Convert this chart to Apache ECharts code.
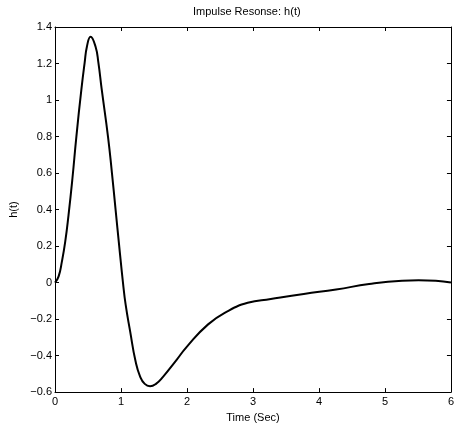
<!DOCTYPE html>
<html>
<head>
<meta charset="utf-8">
<title>Impulse Resonse</title>
<script src="https://cdn.jsdelivr.net/npm/echarts@6/dist/echarts.min.js"></script>
<style>
    html, body { margin: 0; padding: 0; background: #fff; }
    #main { width: 457px; height: 428px; }
</style>
</head>
<body>
<div id="main"></div>
<script>
// values
var timeSec = [0, 0.055, 0.105, 0.155, 0.205, 0.264, 0.324, 0.4, 0.449, 0.484, 0.539, 0.614, 0.658, 0.708, 0.803, 0.863, 0.918, 0.973,
    1.03, 1.07, 1.14, 1.22, 1.29, 1.36, 1.44, 1.53, 1.64, 1.84, 1.99, 2.32, 2.62, 2.92, 3.27, 3.77, 4.26, 4.76, 5.26, 5.51, 5.77, 6.0]
var impulse = [0, 0.034, 0.116, 0.224, 0.37, 0.57, 0.8, 1.058, 1.203, 1.293, 1.347, 1.293, 1.203, 1.058, 0.8, 0.6, 0.4, 0.2,
    0, -0.12, -0.27, -0.43, -0.515, -0.555, -0.568, -0.555, -0.515, -0.425, -0.355, -0.229, -0.156, -0.111, -0.09, -0.062, -0.038, -0.008, 0.01, 0.0125, 0.01, 0]
var titleText = 'Impulse Resonse: h(t)'
var xName = 'Time (Sec)'
var yName = 'h(t)'

var points = timeSec.map(function (t, i) { return [t, impulse[i]] })
var font = 'Liberation Sans, Arial, Helvetica, sans-serif'

function fmt(v) {
    return String(parseFloat(v.toFixed(1))).replace('-', '\u2212')
}

var chartView = echarts.init(document.getElementById('main'))
chartView.setOption({
    backgroundColor: '#fff',
    animation: false,
    textStyle: { fontFamily: font },
    graphic: [{
        type: 'text',
        left: 193,
        top: 6,
        style: { text: titleText, fill: '#000', font: '11px ' + font }
    }],
    grid: { left: 55, top: 27, right: 1, bottom: 33 },
    xAxis: [
        {
            type: 'value',
            min: 0,
            max: 6,
            interval: 1,
            name: xName,
            nameLocation: 'middle',
            nameGap: 17,
            nameTextStyle: { color: '#000', fontSize: 11 },
            axisLine: { onZero: false, lineStyle: { color: '#000', width: 1 } },
            axisTick: { inside: true, length: 4, lineStyle: { color: '#000' } },
            axisLabel: { color: '#000', fontSize: 11, margin: 4 },
            splitLine: { show: false }
        },
        {
            type: 'value',
            position: 'top',
            min: 0,
            max: 6,
            interval: 1,
            axisLine: { onZero: false, lineStyle: { color: '#000', width: 1 } },
            axisTick: { inside: true, length: 4, lineStyle: { color: '#000' } },
            axisLabel: { show: false },
            splitLine: { show: false }
        }
    ],
    yAxis: [
        {
            type: 'value',
            min: -0.6,
            max: 1.4,
            interval: 0.2,
            name: yName,
            nameLocation: 'middle',
            nameRotate: 90,
            nameGap: 34,
            nameTextStyle: { color: '#000', fontSize: 11 },
            axisLine: { show: true, onZero: false, lineStyle: { color: '#000', width: 1 } },
            axisTick: { show: true, inside: true, length: 4, lineStyle: { color: '#000' } },
            axisLabel: { color: '#000', fontSize: 11, margin: 3, formatter: fmt },
            splitLine: { show: false }
        },
        {
            type: 'value',
            position: 'right',
            min: -0.6,
            max: 1.4,
            interval: 0.2,
            axisLine: { show: true, onZero: false, lineStyle: { color: '#000', width: 1 } },
            axisTick: { show: true, inside: true, length: 4, lineStyle: { color: '#000' } },
            axisLabel: { show: false },
            splitLine: { show: false }
        }
    ],
    series: [{
        type: 'line',
        data: points,
        smooth: 0.5,
        showSymbol: false,
        clip: true,
        lineStyle: { color: '#000', width: 2 }
    }]
})
window.addEventListener('resize', function () {
    chartView.resize()
})
</script>
</body>
</html>
